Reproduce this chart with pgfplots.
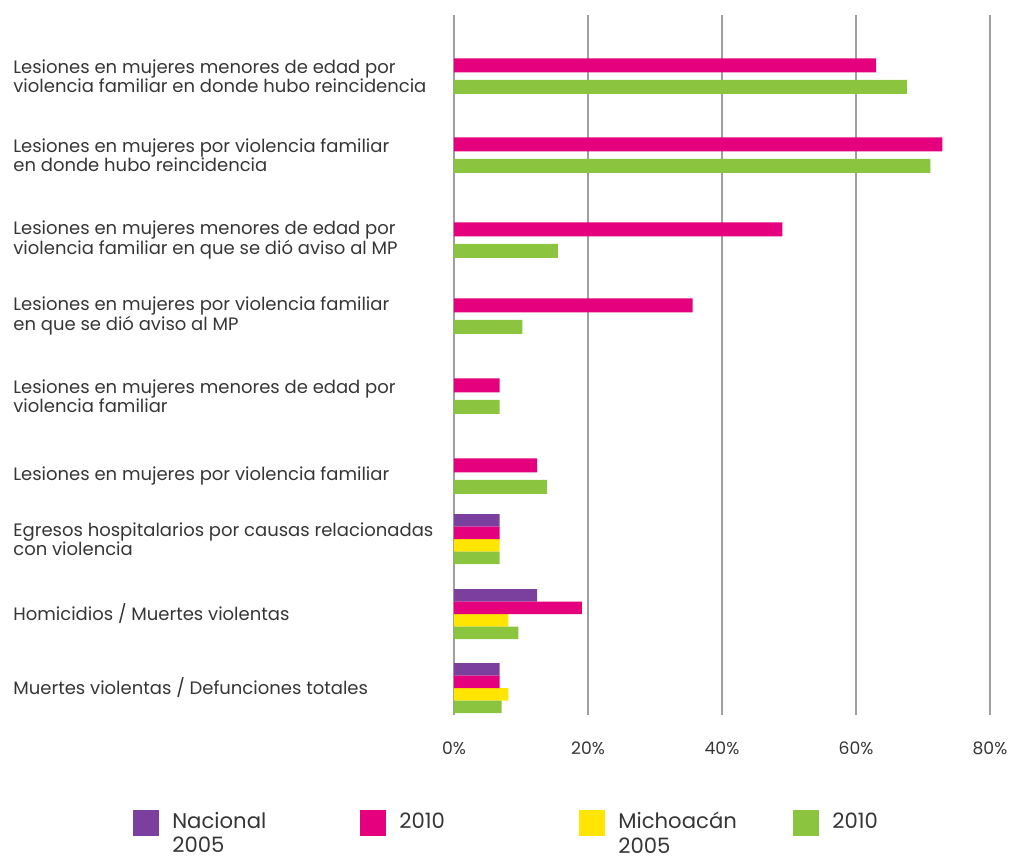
\documentclass[border=0pt]{standalone}
\usepackage{fontspec}
\setmainfont{Poppins}
\usepackage{pgfplots}
\pgfplotsset{compat=1.18}
\definecolor{cpurple}{HTML}{7B3F9E}
\definecolor{cpink}{HTML}{E5007D}
\definecolor{cyellow}{HTML}{FFE500}
\definecolor{cgreen}{HTML}{8BC53F}
\definecolor{labelgray}{HTML}{363636}
\newcommand{\twol}[2]{\vtop{\hbox{\strut #1}\hbox{#2}}}
\begin{document}
\begin{tikzpicture}
\useasboundingbox (0,0) rectangle (509pt,429pt);
\begin{axis}[
  at={(227pt,71.5pt)}, anchor=south west,
  scale only axis, width=268pt, height=350pt,
  xmin=0, xmax=80, ymin=15, ymax=715, y dir=reverse,
  xbar, bar shift=0pt,
  xtick={0,20,40,60,80}, xticklabels={0\%,20\%,40\%,60\%,80\%},
  xmajorgrids, major grid style={color=gray!75, line width=0.9pt},
  axis line style={draw=none}, major tick length=0pt,
  ytick={76,155,240,316,396,476,539,614,688},
  yticklabels={
    {Lesiones en mujeres menores de edad por\\violencia familiar en donde hubo reincidencia},
    {Lesiones en mujeres por violencia familiar\\en donde hubo reincidencia},
    {Lesiones en mujeres menores de edad por\\violencia familiar en que se dió aviso al MP},
    {Lesiones en mujeres por violencia familiar\\en que se dió aviso al MP},
    {Lesiones en mujeres menores de edad por\\violencia familiar},
    {Lesiones en mujeres por violencia familiar},
    {Egresos hospitalarios por causas relacionadas\\con violencia},
    {Homicidios / Muertes violentas},
    {Muertes violentas / Defunciones totales}},
  yticklabel style={anchor=west, align=left, xshift=-220.5pt, inner sep=0pt,
    font=\fontsize{9}{9.6}\selectfont, text=labelgray},
  xticklabel style={yshift=-10pt, font=\fontsize{8.6}{9}\selectfont, text=labelgray},
  legend columns=4,
  legend style={at={(axis description cs:-0.599,-0.1353)}, anchor=north west,
    draw=none, fill=none, inner sep=0pt, column sep=0pt,
    font=\fontsize{10.6}{11}\selectfont, text=labelgray,
    nodes={inner sep=0pt},
    /tikz/every odd column/.append style={column sep=6.5pt}},
  legend image code/.code={\path[#1,draw=none] (0pt,-6.5pt) rectangle (13pt,6.5pt);},
]
% Nacional 2005 (only last three categories)
\addplot[fill=cpurple, draw=none, bar width=12.5] coordinates {
  (6.8,520.25) (12.4,595.25) (6.8,669.25)};
% Nacional 2010, two-bar categories
\addplot[fill=cpink, draw=none, bar width=14] coordinates {
  (63.0,65.25) (72.9,144.25) (49.0,229.25) (35.6,305.25) (6.8,385.25) (12.4,465.25)};
% Michoacan 2005
\addplot[fill=cyellow, draw=none, bar width=12.5] coordinates {
  (6.8,545.25) (8.1,620.25) (8.1,694.25)};
% Michoacan 2010, two-bar categories
\addplot[fill=cgreen, draw=none, bar width=14] coordinates {
  (67.6,86.75) (71.1,165.75) (15.5,250.75) (10.2,326.75) (6.8,406.75) (13.9,486.75)};
% Nacional 2010, four-bar categories
\addplot[fill=cpink, draw=none, bar width=12.5, forget plot] coordinates {
  (6.8,532.75) (19.1,607.75) (6.8,681.75)};
% Michoacan 2010, four-bar categories
\addplot[fill=cgreen, draw=none, bar width=12.5, forget plot] coordinates {
  (6.8,557.75) (9.6,632.75) (7.1,706.75)};
\legend{
  {\makebox[94pt][l]{\raisebox{1pt}{\twol{Nacional}{2005}}}},
  {\makebox[90pt][l]{\raisebox{1pt}{\twol{2010}{}}}},
  {\makebox[87.5pt][l]{\raisebox{1pt}{\twol{Michoacán}{2005}}}},
  {\makebox[40pt][l]{\raisebox{1pt}{\twol{2010}{}}}}}
\end{axis}
\end{tikzpicture}
\end{document}
